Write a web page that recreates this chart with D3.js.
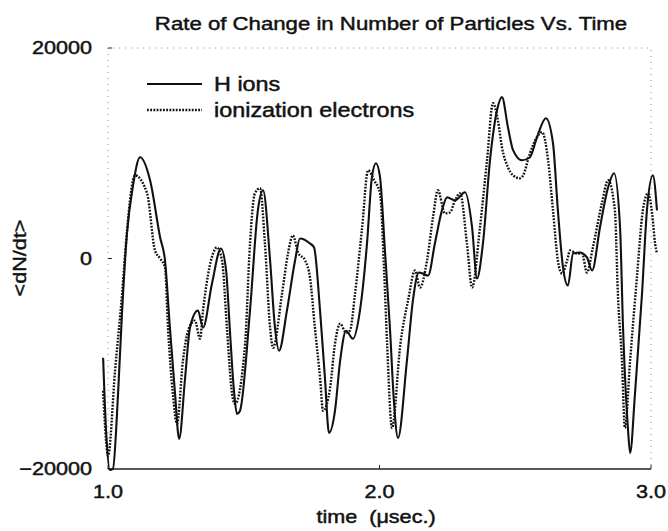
<!DOCTYPE html>
<html>
<head>
<meta charset="utf-8">
<script src="https://cdn.jsdelivr.net/npm/d3@7"></script>
<style>
  html, body { margin: 0; padding: 0; background: #fff; }
  svg { display: block; }
  text { font-family: "Liberation Sans", Arial, Helvetica, sans-serif; fill: #111; stroke: #111; stroke-width: 0.45px; }
</style>
</head>
<body>
<svg id="chart" width="668" height="531"></svg>
<script>
// Rate of change of particle counts, dN/dt, sampled against time (µs)
const titleText = "Rate of Change in Number of Particles Vs. Time";
const xLabel = "time  (\u03bcsec.)";
const yLabel = "<dN/dt>";
const xTicks = [1.0, 2.0, 3.0];
const yTicks = [-20000, 0, 20000];
const seriesNames = ["H ions", "ionization electrons"];

// H ions
const ionTime = [0.982, 0.993, 1.007, 1.018, 1.037, 1.052, 1.070, 1.092, 1.118, 1.155, 1.192, 1.210,
  1.228, 1.247, 1.262, 1.284, 1.302, 1.331, 1.350, 1.383, 1.416, 1.435, 1.449, 1.464, 1.475,
  1.486, 1.523, 1.552, 1.571, 1.597, 1.615, 1.630, 1.659, 1.689, 1.707, 1.744, 1.759, 1.781,
  1.799, 1.814, 1.836, 1.855, 1.877, 1.902, 1.928, 1.954, 1.972, 1.987, 2.002, 2.020, 2.039,
  2.053, 2.068, 2.101, 2.123, 2.145, 2.160, 2.179, 2.204, 2.230, 2.249, 2.278, 2.315, 2.341,
  2.359, 2.381, 2.407, 2.433, 2.451, 2.473, 2.492, 2.525, 2.554, 2.580, 2.613, 2.639, 2.657,
  2.676, 2.694, 2.713, 2.738, 2.764, 2.783, 2.812, 2.842, 2.864, 2.886, 2.897, 2.915, 2.923,
  2.941, 2.967, 2.985, 3.007, 3.022];
const ionRate = [-9430, -16380, -20100, -20000, -12860, -4950, 2400, 6900, 9620, 7430, 2000, -190,
  -6570, -12860, -17140, -11330, -6570, -4950, -6570, -2380, 950, -1140, -6860, -12570, -14760,
  -14480, -4950, 4570, 6480, -190, -6570, -8760, -4950, -190, 1900, 1430, 1050, -4950,
  -11330, -16570, -14480, -9710, -6860, -7620, -4950, 1430, 7710, 9050, 7710, 760, -6860,
  -13520, -17050, -9710, -4000, -1330, -1430, -1620, 1430, 4570, 5810, 5520, 6290, 2950,
  -1900, 1430, 9330, 14100, 15330, 12480, 10290, 9330, 9620, 11520, 13330, 10950, 4570,
  -860, -2570, 480, 570, 100, -1140, 2950, 6760, 8100, 2950, -6570, -16100, -18480,
  -12860, -3330, 4570, 7900, 4570];

// ionization electrons
const elecTime = [0.982, 0.993, 1.000, 1.026, 1.052, 1.070, 1.092, 1.099, 1.144, 1.173, 1.192, 1.210,
  1.221, 1.239, 1.254, 1.276, 1.295, 1.320, 1.339, 1.350, 1.387, 1.401, 1.420, 1.438, 1.457,
  1.468, 1.505, 1.523, 1.541, 1.560, 1.578, 1.597, 1.608, 1.641, 1.663, 1.681, 1.700, 1.726,
  1.744, 1.762, 1.781, 1.792, 1.818, 1.836, 1.855, 1.877, 1.891, 1.910, 1.936, 1.958, 1.980,
  2.002, 2.017, 2.028, 2.046, 2.077, 2.105, 2.131, 2.149, 2.175, 2.197, 2.215, 2.241, 2.260,
  2.278, 2.297, 2.322, 2.341, 2.370, 2.396, 2.418, 2.436, 2.451, 2.473, 2.492, 2.517, 2.529,
  2.554, 2.580, 2.599, 2.621, 2.639, 2.657, 2.672, 2.691, 2.702, 2.727, 2.746, 2.764, 2.786,
  2.819, 2.842, 2.867, 2.878, 2.893, 2.904, 2.923, 2.948, 2.970, 2.989, 3.004, 3.015, 3.022];
const elecRate = [-12570, -17330, -18760, -10670, -3330, 2670, 7430, 7900, 6190, 760, 0, -860,
  -6570, -12860, -15710, -9710, -6860, -5900, -7620, -4950, 480, 1050, -190, -6570, -12860,
  -13810, -8100, 1430, 6190, 6670, 1430, -6570, -8480, -3330, 480, 2190, 570, -190,
  -1810, -6570, -11330, -14480, -12290, -8100, -6190, -7050, -6860, -3330, 2950, 8380, 7430,
  6190, -1140, -8100, -16100, -8100, -4000, -1140, -2760, -190, 3900, 6480, 4290, 4380,
  5520, 6190, 1430, -2760, 2950, 9330, 14760, 13140, 10570, 8670, 7900, 7620, 7900,
  10000, 11520, 12000, 9330, 4570, -190, -1430, -190, 760, 480, 480, -1330, 1050,
  5240, 7430, 4570, -3330, -9710, -16100, -9710, -1810, 4570, 6190, 4290, 1430, 480];

const svg = d3.select("#chart");
const plot = { left: 108, right: 651, top: 48, bottom: 469 };
const stretch = 1.2; // the lettering is set wide

const x = d3.scaleLinear().domain([1.0, 3.0]).range([plot.left, plot.right]);
const y = d3.scaleLinear().domain([-20000, 20000]).range([plot.bottom, plot.top]);

function label(sel, txt, px, py, anchor, size, rotate) {
  return sel.append("text")
    .attr("transform", `translate(${px},${py})` + (rotate ? ` rotate(${rotate})` : "") + ` scale(${stretch},1)`)
    .attr("text-anchor", anchor)
    .attr("font-size", size)
    .style("white-space", "pre")
    .text(txt);
}

// frame: faint left/top/right edges, solid bottom edge
const frame = svg.append("g");
frame.append("path")
  .attr("d", `M${plot.left},${plot.bottom}V${plot.top}H${plot.right}V${plot.bottom}`)
  .attr("fill", "none").attr("stroke", "#888").attr("stroke-width", 1)
  .attr("stroke-dasharray", "1,5");
frame.append("line")
  .attr("x1", plot.left).attr("x2", plot.right)
  .attr("y1", plot.bottom).attr("y2", plot.bottom)
  .attr("stroke", "#222").attr("stroke-width", 1.6);

// axes (labels only; tick marks are tiny stubs)
const xAxis = svg.append("g");
xTicks.forEach(t => {
  xAxis.append("line").attr("x1", x(t)).attr("x2", x(t))
    .attr("y1", plot.bottom).attr("y2", plot.bottom - 4)
    .attr("stroke", "#222").attr("stroke-width", 1);
  label(xAxis, d3.format(".1f")(t), x(t), 498, "middle", 18);
});
const yAxis = svg.append("g");
yTicks.forEach(v => {
  yAxis.append("line").attr("x1", plot.left).attr("x2", plot.left + 4)
    .attr("y1", y(v)).attr("y2", y(v))
    .attr("stroke", "#222").attr("stroke-width", 1);
  label(yAxis, d3.format("d")(v).replace("-", "\u2013"), 92, y(v) + 6, "end", 18);
});

label(svg, titleText, 391, 30, "middle", 18.5);
label(svg, xLabel, 376, 523, "middle", 18);
label(svg, yLabel, 26, 258, "middle", 18, -90);

// series
const ionData = ionTime.map((t, i) => [t, ionRate[i]]);
const elecData = elecTime.map((t, i) => [t, elecRate[i]]);
const line = d3.line().x(d => x(d[0])).y(d => y(d[1])).curve(d3.curveMonotoneX);

svg.append("path").datum(elecData)
  .attr("d", line).attr("fill", "none")
  .attr("stroke", "#111").attr("stroke-width", 2.4)
  .attr("stroke-dasharray", "1.8,1.4");
svg.append("path").datum(ionData)
  .attr("d", line).attr("fill", "none")
  .attr("stroke", "#111").attr("stroke-width", 2.1);

// legend
const legend = svg.append("g");
const styles = [null, "1.8,1.4"];
seriesNames.forEach((name, i) => {
  const ly = 84 + i * 26;
  legend.append("line")
    .attr("x1", 147).attr("x2", 202).attr("y1", ly).attr("y2", ly)
    .attr("stroke", "#111").attr("stroke-width", i ? 2.4 : 2.1)
    .attr("stroke-dasharray", styles[i]);
  label(legend, name, 214, ly + 7, "start", 19.5);
});
</script>
</body>
</html>
